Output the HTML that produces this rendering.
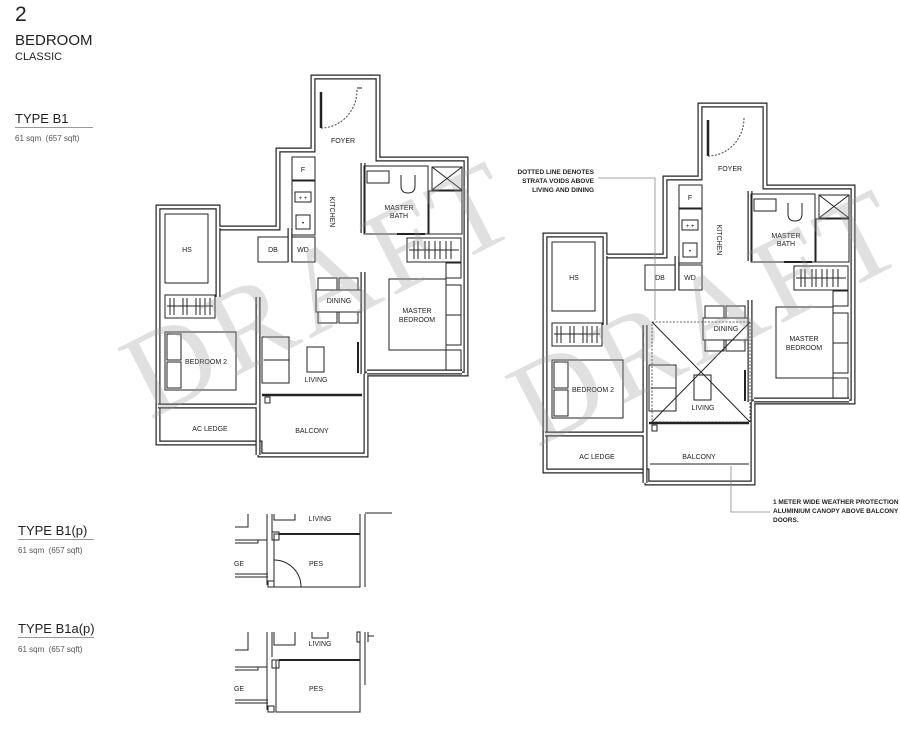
<!DOCTYPE html>
<html><head><meta charset="utf-8"><style>
html,body{margin:0;padding:0;background:#fff;}
body{width:900px;height:736px;position:relative;overflow:hidden;font-family:"Liberation Sans",sans-serif;color:#222;}
.t{position:absolute;left:15px;white-space:nowrap;}
</style></head><body>
<div class="t" style="top:3px;font-size:21px;">2</div>
<div class="t" style="top:32px;font-size:15px;">BEDROOM</div>
<div class="t" style="top:51px;font-size:11px;">CLASSIC</div>
<div class="t" style="top:111px;font-size:13px;">TYPE B1</div>
<div style="position:absolute;left:15px;top:127px;width:78px;height:1px;background:#999"></div>
<div class="t" style="top:134px;font-size:8px;color:#555">61 sqm&nbsp; (657 sqft)</div>
<div class="t" style="left:18px;top:523px;font-size:13px;">TYPE B1(p)</div>
<div style="position:absolute;left:18px;top:539px;width:76px;height:1px;background:#999"></div>
<div class="t" style="left:18px;top:546px;font-size:8px;color:#555">61 sqm&nbsp; (657 sqft)</div>
<div class="t" style="left:18px;top:621px;font-size:13px;">TYPE B1a(p)</div>
<div style="position:absolute;left:18px;top:637px;width:76px;height:1px;background:#999"></div>
<div class="t" style="left:18px;top:645px;font-size:8px;color:#555">61 sqm&nbsp; (657 sqft)</div>

<svg width="900" height="736" style="position:absolute;left:0;top:0" xmlns="http://www.w3.org/2000/svg">
<style>
.w{fill:none;stroke:#222;stroke-width:5;stroke-linejoin:miter}
.wi{fill:none;stroke:#fff;stroke-width:2.6;stroke-linejoin:miter}
.l{fill:none;stroke:#222;stroke-width:1}
.lb{fill:#fff;stroke:#222;stroke-width:1}
.tx{font-family:"Liberation Sans",sans-serif;font-size:7px;fill:#222;text-anchor:middle}
.wm{font-family:"Liberation Serif",serif;font-size:120px;fill:#999;fill-opacity:.3;letter-spacing:6px}
</style>

<!-- LEFT PLAN -->
<g>
<path class="w" d="M313,150 L313,77 L378,77 L378,159 L466,159 L466,374 L366,374 L366,455 L260,455 L260,443 L158,443 L158,207 L218,207 L218,228 L278,228 L278,150 Z"/>
<path class="wi" d="M313,150 L313,77 L378,77 L378,159 L466,159 L466,374 L366,374 L366,455 L260,455 L260,443 L158,443 L158,207 L218,207 L218,228 L278,228 L278,150 Z"/>
<path class="w" d="M363,163 L363,233 M363,272 L363,374 M258,297 L258,455 M158,406 L258,406 M218,228 L218,297 M290,228 L290,262 M367,372 L462,372"/>
<path class="wi" d="M363,163 L363,233 M363,272 L363,374 M258,297 L258,455 M158,406 L258,406 M218,228 L218,297 M290,228 L290,262 M367,372 L462,372"/>
<line x1="262" y1="395" x2="362" y2="395" stroke="#222" stroke-width="2.5"/>
<line x1="321" y1="92" x2="321" y2="128" stroke="#222" stroke-width="2.5"/>
<path d="M321,128 A36,38 0 0 0 357,90" fill="none" stroke="#444" stroke-width="1" stroke-dasharray="2,1.5"/>
<line x1="357" y1="88" x2="362" y2="88" class="l"/>
<text class="tx" x="343" y="143">FOYER</text>
<!-- kitchen -->
<rect class="lb" x="292" y="157" width="23" height="23"/><text class="tx" x="303" y="172">F</text>
<rect class="lb" x="292" y="181" width="23" height="54"/>
<rect class="l" x="295" y="192" width="16" height="10"/><text class="tx" x="303" y="200" style="font-size:6px">+ +</text>
<rect class="l" x="296" y="215" width="14" height="14"/><text class="tx" x="303" y="225" style="font-size:6px">•</text>
<rect class="lb" x="292" y="237" width="23" height="25" stroke-width="1.5"/><text class="tx" x="303" y="252">WD</text>
<rect class="lb" x="258" y="237" width="30" height="25"/><text class="tx" x="273" y="252">DB</text>
<text class="tx" x="0" y="0" transform="translate(330,212) rotate(90)">KITCHEN</text>
<!-- master bath -->
<rect class="l" x="364" y="166" width="64" height="68"/>
<rect class="l" x="432" y="167" width="30" height="23"/><path class="l" d="M432,167 L462,190 M462,167 L432,190"/>
<rect class="l" x="429" y="191" width="33" height="43"/>
<rect class="l" x="367" y="171" width="22" height="12"/>
<path class="l" d="M401,175 L401,186 Q401,193 408,193 Q415,193 415,186 L415,175"/>
<text class="tx" x="399" y="210">MASTER</text><text class="tx" x="399" y="218">BATH</text>
<line x1="397" y1="234" x2="425" y2="234" stroke="#222" stroke-width="2"/>
<!-- master wardrobe -->
<rect class="l" x="407" y="238" width="54" height="24"/>
<path class="l" d="M409,250 L459,250 M414,241 V259 M418,241 V259 M425,241 V259 M429,241 V259 M435,241 V259 M440,241 V259 M446,241 V259 M451,241 V259"/>
<!-- master bedroom -->
<rect class="l" x="446" y="263" width="15" height="15"/>
<rect class="l" x="389" y="279" width="57" height="71"/>
<rect class="l" x="446" y="285" width="15" height="60"/><line class="l" x1="446" y1="315" x2="461" y2="315"/>
<rect class="l" x="446" y="350" width="15" height="20"/>
<text class="tx" x="417" y="313">MASTER</text><text class="tx" x="417" y="322">BEDROOM</text>
<!-- HS / bedroom2 -->
<rect class="l" x="165" y="214" width="43" height="69"/><text class="tx" x="187" y="252">HS</text>
<rect class="l" x="165" y="295" width="50" height="23"/>
<path class="l" d="M167,306 L213,306 M170,298 V315 M174,298 V315 M183,298 V315 M187,298 V315 M196,298 V315 M200,298 V315 M205,298 V315 M210,298 V315"/>
<rect class="l" x="165" y="332" width="71" height="58"/>
<rect class="l" x="167" y="334" width="14" height="26"/><rect class="l" x="167" y="362" width="14" height="26"/>
<text class="tx" x="206" y="364">BEDROOM 2</text>
<text class="tx" x="210" y="431">AC LEDGE</text>
<text class="tx" x="312" y="433">BALCONY</text>
<rect class="l" x="265" y="397" width="5" height="6"/>
<!-- dining -->
<rect class="l" x="318" y="278" width="19" height="12"/><rect class="l" x="339" y="278" width="19" height="12"/>
<rect class="lb" x="316" y="290" width="45" height="22"/>
<rect class="l" x="318" y="312" width="19" height="11"/><rect class="l" x="339" y="312" width="19" height="11"/>
<text class="tx" x="339" y="303">DINING</text>
<!-- living -->
<rect class="l" x="262" y="337" width="27" height="46"/><line class="l" x1="264" y1="360" x2="289" y2="360"/>
<rect class="l" x="307" y="347" width="17" height="25"/>
<text class="tx" x="316" y="382">LIVING</text>
<line x1="358" y1="342" x2="358" y2="373" stroke="#222" stroke-width="2"/>
<text class="wm" transform="translate(150,420) rotate(-27)">DRAFT</text>
</g>

<!-- RIGHT PLAN -->
<g transform="translate(387,28)">
<path class="w" d="M313,150 L313,77 L378,77 L378,159 L466,159 L466,374 L366,374 L366,455 L260,455 L260,443 L158,443 L158,207 L218,207 L218,228 L278,228 L278,150 Z"/>
<path class="wi" d="M313,150 L313,77 L378,77 L378,159 L466,159 L466,374 L366,374 L366,455 L260,455 L260,443 L158,443 L158,207 L218,207 L218,228 L278,228 L278,150 Z"/>
<path class="w" d="M363,163 L363,233 M363,272 L363,374 M258,297 L258,455 M158,406 L258,406 M218,228 L218,297 M290,228 L290,262 M367,372 L462,372"/>
<path class="wi" d="M363,163 L363,233 M363,272 L363,374 M258,297 L258,455 M158,406 L258,406 M218,228 L218,297 M290,228 L290,262 M367,372 L462,372"/>
<line x1="262" y1="395" x2="362" y2="395" stroke="#222" stroke-width="2.5"/>
<line x1="321" y1="92" x2="321" y2="128" stroke="#222" stroke-width="2.5"/>
<path d="M321,128 A36,38 0 0 0 357,90" fill="none" stroke="#444" stroke-width="1" stroke-dasharray="2,1.5"/>
<text class="tx" x="343" y="143">FOYER</text>
<rect class="lb" x="292" y="157" width="23" height="23"/><text class="tx" x="303" y="172">F</text>
<rect class="lb" x="292" y="181" width="23" height="54"/>
<rect class="l" x="295" y="192" width="16" height="10"/><text class="tx" x="303" y="200" style="font-size:6px">+ +</text>
<rect class="l" x="296" y="215" width="14" height="14"/><text class="tx" x="303" y="225" style="font-size:6px">•</text>
<rect class="lb" x="292" y="237" width="23" height="25" stroke-width="1.5"/><text class="tx" x="303" y="252">WD</text>
<rect class="lb" x="258" y="237" width="30" height="25"/><text class="tx" x="273" y="252">DB</text>
<text class="tx" x="0" y="0" transform="translate(330,212) rotate(90)">KITCHEN</text>
<rect class="l" x="364" y="166" width="64" height="68"/>
<rect class="l" x="432" y="167" width="30" height="23"/><path class="l" d="M432,167 L462,190 M462,167 L432,190"/>
<rect class="l" x="429" y="191" width="33" height="43"/>
<rect class="l" x="367" y="171" width="22" height="12"/>
<path class="l" d="M401,175 L401,186 Q401,193 408,193 Q415,193 415,186 L415,175"/>
<text class="tx" x="399" y="210">MASTER</text><text class="tx" x="399" y="218">BATH</text>
<line x1="397" y1="234" x2="425" y2="234" stroke="#222" stroke-width="2"/>
<rect class="l" x="407" y="238" width="54" height="24"/>
<path class="l" d="M409,250 L459,250 M414,241 V259 M418,241 V259 M425,241 V259 M429,241 V259 M435,241 V259 M440,241 V259 M446,241 V259 M451,241 V259"/>
<rect class="l" x="446" y="263" width="15" height="15"/>
<rect class="l" x="389" y="279" width="57" height="71"/>
<rect class="l" x="446" y="285" width="15" height="60"/><line class="l" x1="446" y1="315" x2="461" y2="315"/>
<rect class="l" x="446" y="350" width="15" height="20"/>
<text class="tx" x="417" y="313">MASTER</text><text class="tx" x="417" y="322">BEDROOM</text>
<rect class="l" x="165" y="214" width="43" height="69"/><text class="tx" x="187" y="252">HS</text>
<rect class="l" x="165" y="295" width="50" height="23"/>
<path class="l" d="M167,306 L213,306 M170,298 V315 M174,298 V315 M183,298 V315 M187,298 V315 M196,298 V315 M200,298 V315 M205,298 V315 M210,298 V315"/>
<rect class="l" x="165" y="332" width="71" height="58"/>
<rect class="l" x="167" y="334" width="14" height="26"/><rect class="l" x="167" y="362" width="14" height="26"/>
<text class="tx" x="206" y="364">BEDROOM 2</text>
<text class="tx" x="210" y="431">AC LEDGE</text>
<text class="tx" x="312" y="431">BALCONY</text>
<line class="l" x1="263" y1="436" x2="362" y2="436"/>
<rect class="l" x="265" y="397" width="5" height="6"/>
<rect class="l" x="318" y="278" width="19" height="12"/><rect class="l" x="339" y="278" width="19" height="12"/>
<rect class="lb" x="316" y="290" width="45" height="22"/>
<rect class="l" x="318" y="312" width="19" height="11"/><rect class="l" x="339" y="312" width="19" height="11"/>
<text class="tx" x="339" y="303">DINING</text>
<rect class="l" x="262" y="337" width="27" height="46"/><line class="l" x1="264" y1="360" x2="289" y2="360"/>
<rect class="l" x="307" y="347" width="17" height="25"/>
<text class="tx" x="316" y="382">LIVING</text>
<line x1="358" y1="342" x2="358" y2="373" stroke="#222" stroke-width="2"/>
<rect x="265" y="294" width="98" height="100" fill="none" stroke="#333" stroke-width="0.8" stroke-dasharray="2,1.5"/>
<path class="l" d="M265,294 L363,394 M363,294 L265,394" stroke-width="0.7"/>
<text class="wm" transform="translate(150,420) rotate(-27)">DRAFT</text>
</g>

<!-- annotations -->
<g font-family="Liberation Sans,sans-serif" font-size="6.5" font-weight="bold" fill="#222" text-anchor="end">
<text x="594" y="174">DOTTED LINE DENOTES</text>
<text x="594" y="183">STRATA VOIDS ABOVE</text>
<text x="594" y="192">LIVING AND DINING</text>
</g>
<path d="M598,178 L655,178 L655,320" fill="none" stroke="#888" stroke-width="0.8"/>
<path d="M731,466 L731,512 L770,512" fill="none" stroke="#888" stroke-width="0.8"/>
<g font-family="Liberation Sans,sans-serif" font-size="6.5" font-weight="bold" fill="#222">
<text x="773" y="504">1 METER WIDE WEATHER PROTECTION</text>
<text x="773" y="513">ALUMINIUM CANOPY ABOVE BALCONY</text>
<text x="773" y="522">DOORS.</text>
</g>

<!-- partial B1(p) -->
<g class="l">
<path class="l" d="M248,514 L248,527 L235,527"/>
<path class="l" d="M267,514 L267,585 M272,514 L272,532"/>
<path class="l" d="M274,514 L274,520 L295,520 L295,514"/>
<path class="l" d="M235,540 L258,540 L258,543 L235,543 M258,540 L267,540 M235,574 L268,574 M235,577 L268,577"/>
<rect class="l" x="272" y="532" width="7" height="8"/>
<line x1="279" y1="534" x2="360" y2="534" stroke="#222" stroke-width="2"/>
<rect class="l" x="274" y="534" width="86" height="53"/>
<rect class="l" x="268" y="581" width="6" height="6"/>
<path class="l" d="M274,560 A27,27 0 0 1 301,587"/>
<path class="l" d="M360,514 L360,587 M365,514 L365,587 M365,513 L392,513"/>
</g>
<text class="tx" x="320" y="521">LIVING</text>
<text class="tx" x="316" y="566">PES</text>
<text class="tx" x="239" y="566">GE</text>

<!-- partial B1a(p) -->
<path class="l" d="M248,632 L248,650 L235,650"/>
<path class="l" d="M267,632 L267,710 M272,632 L272,657"/>
<path class="l" d="M274,632 L274,645 L295,645 L295,632"/>
<path class="l" d="M312,632 L312,638 L328,638 L328,632"/>
<path class="l" d="M235,667 L258,667 L258,670 L235,670 M258,667 L267,667 M235,700 L268,700 M235,703 L268,703"/>
<rect class="l" x="272" y="660" width="7" height="8"/>
<line x1="279" y1="660" x2="360" y2="660" stroke="#222" stroke-width="2"/>
<rect class="l" x="276" y="660" width="84" height="52"/>
<rect class="l" x="268" y="706" width="6" height="6"/>
<path class="l" d="M360,632 L360,712 M365,632 L365,685"/>
<rect class="l" x="357" y="632" width="3" height="10"/>
<path class="l" d="M368,632 L368,642 M368,636 L374,636"/>
<text class="tx" x="320" y="646">LIVING</text>
<text class="tx" x="316" y="691">PES</text>
<text class="tx" x="239" y="691">GE</text>
</svg>
</body></html>
